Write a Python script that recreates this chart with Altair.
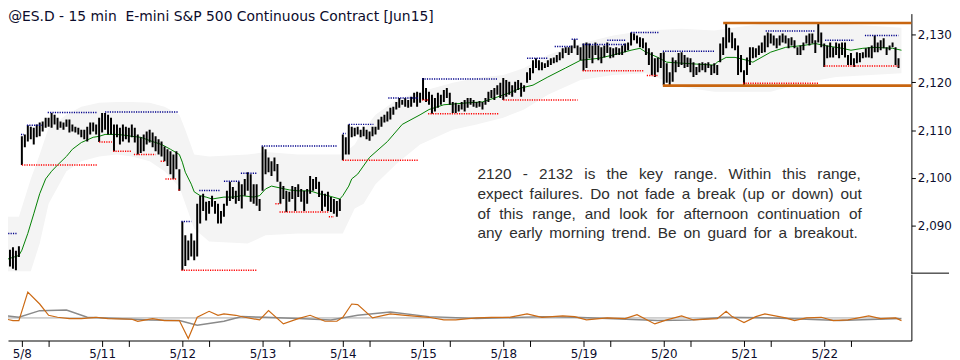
import json
import altair as alt
import pandas as pd

# ---------------- 15-minute bars (high / low) ----------------
pre_hi = [2087.0, 2086.0, 2086.5, 2085.0, 2085.5, 2084.8, 2085.7]
pre_lo = [2084.5, 2084.0, 2083.5, 2081.5, 2081.0, 2080.7, 2083.5]

d08_hi = [2108.7, 2109.1, 2111.0, 2110.7, 2110.5, 2111.2, 2111.6, 2111.8, 2112.6, 2112.6, 2113.6, 2113.2, 2112.6, 2111.8,
          2111.6, 2112.2, 2112.2, 2111.2, 2110.7, 2110.5, 2110.1, 2110.1, 2110.7, 2111.6, 2111.6, 2111.2, 2112.6]
d08_lo = [2102.7, 2106.4, 2107.6, 2108.1, 2107.0, 2108.5, 2108.7, 2109.7, 2110.5, 2110.7, 2110.5, 2111.2, 2110.1, 2110.5,
          2110.1, 2110.7, 2109.5, 2109.7, 2109.5, 2109.1, 2108.5, 2108.1, 2107.6, 2109.1, 2109.7, 2109.1, 2107.5]

d11_hi = [2113.6, 2113.6, 2113.2, 2112.6, 2111.2, 2111.2, 2110.5, 2111.2, 2110.7, 2110.5, 2111.2, 2110.5, 2109.1, 2108.5,
          2109.1, 2109.7, 2110.1, 2109.5, 2108.7, 2108.1, 2107.6, 2106.6, 2106.0, 2105.6, 2104.9, 2105.6, 2101.8]
d11_lo = [2109.5, 2110.1, 2109.1, 2109.1, 2105.6, 2108.5, 2107.0, 2107.6, 2108.1, 2107.4, 2108.5, 2107.4, 2104.9, 2105.2,
          2105.6, 2107.0, 2107.4, 2106.4, 2105.6, 2104.9, 2104.5, 2103.5, 2102.5, 2100.8, 2099.8, 2101.8, 2097.3]

d12_hi = [2090.9, 2088.0, 2086.9, 2088.4, 2086.9, 2094.6, 2096.3, 2096.7, 2095.0, 2095.2, 2096.3, 2095.2, 2094.6, 2093.1,
          2094.6, 2097.3, 2099.2, 2098.1, 2097.3, 2099.2, 2098.7, 2099.8, 2101.2, 2100.8, 2098.7, 2098.7, 2095.6]
d12_lo = [2080.7, 2081.6, 2082.8, 2083.6, 2082.8, 2083.6, 2090.5, 2093.1, 2091.1, 2092.5, 2094.0, 2092.5, 2090.5, 2090.5,
          2091.9, 2094.2, 2095.2, 2095.6, 2094.6, 2095.2, 2093.6, 2096.3, 2097.3, 2095.0, 2094.6, 2094.2, 2093.1]

d13_hi = [2106.6, 2106.0, 2104.3, 2103.5, 2104.3, 2102.9, 2099.2, 2098.3, 2097.3, 2097.1, 2098.3, 2098.1, 2098.7, 2097.7,
          2097.3, 2097.7, 2100.4, 2099.8, 2100.2, 2099.2, 2097.3, 2096.7, 2097.1, 2096.0, 2095.6, 2095.2, 2095.6]
d13_lo = [2097.3, 2100.8, 2101.2, 2100.4, 2101.4, 2099.2, 2094.6, 2095.6, 2092.9, 2095.0, 2095.6, 2093.1, 2096.0, 2095.0,
          2093.1, 2094.6, 2096.7, 2097.3, 2097.7, 2096.0, 2093.1, 2094.0, 2093.1, 2092.9, 2092.5, 2091.9, 2093.1]

d14_hi = [2109.1, 2108.5, 2111.2, 2110.7, 2110.5, 2110.7, 2110.1, 2110.7, 2110.1, 2109.7, 2110.7, 2110.7, 2112.2, 2112.8,
          2113.2, 2113.9, 2114.7, 2114.9, 2115.9, 2116.7, 2116.3, 2116.7, 2116.3, 2117.0, 2117.8, 2118.0, 2117.8]
d14_lo = [2103.7, 2104.9, 2104.9, 2108.5, 2108.7, 2109.1, 2108.5, 2108.7, 2108.1, 2107.8, 2108.7, 2109.1, 2110.1, 2110.7,
          2111.6, 2111.8, 2112.2, 2113.2, 2114.3, 2114.7, 2115.3, 2114.9, 2114.7, 2114.9, 2115.7, 2114.9, 2115.7]

d15_hi = [2120.9, 2118.8, 2118.0, 2117.4, 2116.7, 2117.8, 2117.4, 2118.4, 2118.8, 2117.8, 2115.9, 2115.7, 2115.3, 2115.9,
          2116.3, 2116.7, 2116.7, 2116.3, 2115.9, 2116.1, 2115.9, 2116.7, 2118.0, 2118.4, 2118.8, 2119.4, 2119.9]
d15_lo = [2116.3, 2115.9, 2115.3, 2113.4, 2113.9, 2114.7, 2115.3, 2115.9, 2116.7, 2115.3, 2113.6, 2113.6, 2113.9, 2114.3,
          2113.9, 2114.7, 2115.3, 2114.9, 2114.7, 2114.9, 2114.3, 2115.3, 2115.9, 2116.7, 2116.3, 2117.4, 2116.7]

d18_hi = [2120.9, 2120.5, 2120.1, 2119.4, 2120.1, 2120.5, 2119.9, 2119.4, 2122.1, 2123.0, 2124.6, 2125.0, 2124.6, 2124.2,
          2124.0, 2124.6, 2125.0, 2125.2, 2125.7, 2126.3, 2127.1, 2127.3, 2127.3, 2127.7, 2129.0, 2127.7, 2127.3]
d18_lo = [2116.3, 2117.0, 2117.4, 2117.0, 2117.8, 2118.4, 2117.0, 2118.0, 2119.9, 2120.5, 2121.9, 2123.0, 2122.5, 2122.5,
          2123.0, 2123.2, 2123.6, 2124.0, 2124.2, 2124.6, 2125.0, 2126.1, 2125.7, 2126.1, 2127.1, 2125.7, 2124.6]

d19_hi = [2128.1, 2128.3, 2128.1, 2127.7, 2128.3, 2127.7, 2127.3, 2127.7, 2128.3, 2127.3, 2127.1, 2127.3, 2127.1, 2127.7,
          2128.1, 2128.3, 2130.4, 2130.2, 2129.8, 2129.4, 2129.2, 2128.3, 2127.1, 2126.3, 2125.0, 2125.2, 2126.1]
d19_lo = [2122.4, 2123.0, 2125.0, 2124.0, 2125.7, 2124.6, 2124.0, 2125.2, 2126.1, 2125.0, 2125.2, 2125.7, 2125.7, 2125.7,
          2126.3, 2126.7, 2127.7, 2128.8, 2128.1, 2127.3, 2127.1, 2125.7, 2123.6, 2121.5, 2121.1, 2122.1, 2123.0]

d20_hi = [2126.3, 2124.0, 2122.1, 2125.2, 2124.6, 2126.1, 2126.3, 2125.7, 2125.2, 2125.0, 2124.2, 2123.2, 2124.0, 2124.2,
          2124.0, 2124.2, 2123.6, 2124.0, 2123.6, 2128.1, 2129.4, 2132.3, 2131.4, 2130.4, 2129.2, 2127.7, 2125.7]
d20_lo = [2119.4, 2119.9, 2119.4, 2120.1, 2122.1, 2123.2, 2123.6, 2123.0, 2123.2, 2122.1, 2121.1, 2121.5, 2122.1, 2122.5,
          2122.1, 2123.0, 2121.5, 2121.9, 2121.5, 2124.2, 2125.7, 2127.1, 2128.3, 2127.1, 2126.7, 2121.5, 2122.1]

d21_hi = [2122.5, 2125.2, 2127.3, 2127.3, 2127.1, 2127.7, 2128.3, 2129.8, 2130.4, 2130.2, 2129.8, 2129.2, 2129.8, 2130.2,
          2129.8, 2129.2, 2129.4, 2128.8, 2127.3, 2127.7, 2128.3, 2129.8, 2130.2, 2130.2, 2128.8, 2132.3, 2130.4]
d21_lo = [2119.4, 2121.5, 2123.6, 2125.0, 2125.2, 2125.7, 2126.1, 2126.3, 2127.3, 2128.1, 2127.7, 2127.1, 2127.7, 2128.3,
          2128.1, 2127.1, 2127.7, 2127.1, 2125.7, 2125.7, 2126.7, 2128.1, 2127.7, 2128.1, 2126.1, 2128.3, 2127.3]

d22_hi = [2128.1, 2127.7, 2128.3, 2127.3, 2128.3, 2128.1, 2128.3, 2128.3, 2125.7, 2126.1, 2125.0, 2126.3, 2126.1, 2126.3,
          2127.1, 2127.3, 2127.7, 2129.8, 2128.3, 2128.8, 2129.2, 2127.3, 2127.7, 2128.3, 2127.3, 2125.0]
d22_lo = [2123.2, 2125.0, 2125.2, 2125.2, 2125.7, 2125.0, 2125.7, 2125.2, 2123.6, 2123.6, 2123.2, 2124.0, 2124.2, 2125.0,
          2125.2, 2125.2, 2125.0, 2126.3, 2126.3, 2126.7, 2127.1, 2125.7, 2126.7, 2127.3, 2123.6, 2123.0]

# ---------------- session labels (bar index of each session start) ----------------
day_labels = ["5/8", "5/11", "5/12", "5/13", "5/14", "5/15", "5/18", "5/19", "5/20", "5/21", "5/22"]
day_start = [7, 34, 61, 88, 115, 142, 169, 196, 223, 250, 277]
minor_ticks = [16, 43, 70, 97, 124, 151, 178, 205, 232, 259, 286]
price_ticks = [2090, 2100, 2110, 2120, 2130]

# ---------------- moving average & envelope ----------------
ma_idx = [0, 6, 7, 9, 11, 13, 15, 17, 19, 22, 24, 27, 31, 33, 35, 39, 42, 44, 47, 51, 54, 57, 60, 61, 62, 64, 65, 67, 69,
          71, 75, 78, 81, 85, 87, 89, 91, 94, 97, 100, 104, 107, 110, 114, 115, 117, 118, 120, 124, 130, 135, 141, 144,
          149, 153, 157, 162, 166, 171, 175, 179, 184, 190, 195, 201, 206, 212, 215, 217, 221, 224, 229, 234, 240, 241,
          244, 247, 251, 253, 259, 264, 270, 274, 277, 283, 286, 290, 294, 300, 303]
ma_val = [2082.6, 2083.8, 2084.9, 2088.4, 2092.5, 2096.7, 2099.8, 2101.4, 2102.7, 2104.5, 2106.0, 2107.4, 2108.5, 2108.7,
          2109.1, 2109.1, 2108.9, 2108.7, 2108.5, 2107.6, 2107.0, 2106.0, 2104.9, 2103.3, 2101.2, 2098.7, 2097.1, 2096.3,
          2096.0, 2095.6, 2096.0, 2096.0, 2096.3, 2096.0, 2096.3, 2097.7, 2098.3, 2097.9, 2097.5, 2097.3, 2097.3, 2096.7,
          2096.3, 2095.6, 2096.3, 2098.3, 2099.8, 2100.8, 2104.3, 2107.6, 2111.2, 2113.2, 2114.3, 2115.3, 2115.5, 2115.7,
          2115.9, 2116.7, 2117.8, 2118.8, 2119.4, 2121.1, 2123.0, 2124.6, 2125.0, 2125.7, 2126.7, 2127.1, 2126.3, 2125.2,
          2124.2, 2124.0, 2123.8, 2123.6, 2124.2, 2125.2, 2125.2, 2124.6, 2124.2, 2126.3, 2127.3, 2127.7, 2128.1, 2127.7,
          2127.1, 2126.7, 2127.1, 2127.3, 2127.1, 2126.7]

band_idx = [0, 6, 10, 13, 16, 22, 27, 33, 39, 44, 50, 55, 60, 62, 65, 70, 83, 89, 100, 115, 119, 122, 126, 133, 141, 152,
            160, 169, 176, 184, 195, 206, 217, 229, 240, 259, 270, 281, 303]
band_hi = [2091.9, 2091.9, 2099.8, 2104.9, 2110.5, 2113.2, 2114.9, 2115.7, 2115.9, 2115.9, 2115.7, 2114.9, 2113.2, 2110.1,
           2104.9, 2104.5, 2104.9, 2105.4, 2104.9, 2104.9, 2107.0, 2110.1, 2113.2, 2116.3, 2118.0, 2119.9, 2120.9, 2121.5,
           2123.0, 2125.7, 2128.1, 2129.8, 2130.8, 2131.2, 2130.8, 2132.5, 2132.5, 2132.3, 2131.4]
band_lo = [2080.5, 2080.5, 2080.5, 2086.3, 2094.6, 2101.4, 2103.5, 2104.5, 2104.9, 2104.5, 2103.5, 2101.4, 2098.1, 2094.6,
           2089.4, 2086.7, 2086.3, 2088.0, 2088.4, 2088.4, 2093.6, 2094.6, 2098.7, 2102.9, 2107.0, 2110.1, 2111.2, 2112.6,
           2114.3, 2117.4, 2120.5, 2121.5, 2121.9, 2119.0, 2118.0, 2118.0, 2119.9, 2121.1, 2121.9]

# ---------------- swing high (blue) / swing low (red) levels ----------------
swh_start = [0, 6.7, 8.7, 15.7, 35, 60.7, 66.7, 75, 80.7, 87.7, 115, 117, 130.3, 141.7, 177, 186.3, 192, 195.7, 204, 212,
             222.7, 257.3, 277.3, 290.7]
swh_end = [5.3, 7.7, 13.7, 32.3, 59.7, 64, 73.7, 80.3, 86.3, 113.3, 116, 125.3, 140.3, 167.3, 184, 192, 194, 210.3, 210.3,
           221.3, 240.3, 273.7, 287, 302]
swh_price = [2088.4, 2109.1, 2111.0, 2113.7, 2113.8, 2090.9, 2097.4, 2099.3, 2101.0, 2106.7, 2109.3, 2111.2, 2116.7,
             2120.7, 2125.0, 2127.5, 2129.0, 2127.9, 2128.8, 2130.4, 2126.5, 2130.7, 2128.8, 2129.8]

swl_start = [7, 33, 37.7, 44.7, 53.7, 55.3, 59.7, 60.7, 92.3, 93.7, 110.3, 115, 141.7, 143.7, 169, 195.7, 217.3, 249.7, 277]
swl_end = [32.3, 37.3, 44, 52, 55.3, 59, 60.3, 86.3, 94, 110.3, 112, 140.3, 143.7, 167.3, 194, 216.3, 221.3, 275.3, 302]
swl_price = [2102.7, 2107.5, 2105.6, 2104.9, 2103.5, 2099.8, 2097.5, 2080.7, 2094.6, 2092.9, 2091.9, 2103.7, 2116.3,
             2113.4, 2116.3, 2122.4, 2121.4, 2119.8, 2123.4]

# ---------------- key range ----------------
range_price = [2132.4, 2119.3]
range_start = [243, 222.7]
range_end = [310, 310]

# ---------------- lower oscillator pane ----------------
orange_idx = [0, 4, 6, 9, 13, 16, 19, 23, 27, 32, 36, 44, 46, 51, 55, 60, 63, 66, 70, 73, 75, 79, 82, 87, 90, 95, 100, 104,
              109, 113, 115, 118, 120, 125, 131, 136, 144, 149, 153, 160, 165, 171, 177, 182, 189, 193, 197, 204, 210,
              214, 220, 224, 229, 233, 241, 244, 246, 250, 254, 257, 264, 267, 271, 276, 280, 285, 292, 296, 301, 303]
orange_val = [0.0, -0.4, -0.4, 3.9, 2.1, 0.4, 0.1, -0.1, -0.1, 0.1, -0.1, -0.2, -0.5, -0.1, -0.4, -0.4, -3.1, 0.1, 1.0,
              0.4, 0.6, 0.4, 0.1, -0.3, 1.1, -0.9, -0.1, 0.4, -0.5, -0.5, 0.1, 2.1, 2.0, 0.0, 0.6, 0.4, 0.1, -0.3, -0.3,
              0.0, 0.1, 0.1, 0.6, 0.1, 0.3, 0.2, -0.3, 0.0, -0.1, 0.5, -0.9, -0.3, 0.3, -0.3, -0.1, 1.0, 0.2, -0.7, 0.2,
              0.6, 0.0, -0.4, 0.0, 0.1, -0.4, -0.3, 0.3, -0.1, 0.0, -0.4]
gray_idx = [0, 6, 13, 22, 29, 39, 50, 60, 66, 75, 81, 89, 100, 111, 120, 131, 144, 160, 182, 193, 204, 221, 232, 243, 260,
            282, 303]
gray_val = [0.4, 0.1, 1.1, 1.2, 0.1, -0.1, -0.3, -0.4, -1.1, -0.5, 0.2, 0.1, -0.1, -0.3, 0.4, 0.9, 0.2, -0.1, 0.2, 0.1,
            -0.1, -0.4, -0.3, 0.1, 0.0, -0.4, -0.1]

title_text = "@ES.D - 15 min\u00a0 E-mini S&P 500 Continuous Contract [Jun15]"
note_lines = [
    "2120 - 2132 is the key range. Within this range,",
    "expect failures. Do not fade a break (up or down) out",
    "of this range, and look for afternoon continuation of",
    "any early morning trend. Be on guard for a breakout.",
]

# ---------------- build tables ----------------
hi = pre_hi + d08_hi + d11_hi + d12_hi + d13_hi + d14_hi + d15_hi + d18_hi + d19_hi + d20_hi + d21_hi + d22_hi
lo = pre_lo + d08_lo + d11_lo + d12_lo + d13_lo + d14_lo + d15_lo + d18_lo + d19_lo + d20_lo + d21_lo + d22_lo
bars = pd.DataFrame({"i": list(range(len(hi))), "hi": hi, "lo": lo})
ma_df = pd.DataFrame({"i": ma_idx, "v": ma_val})
band_df = pd.DataFrame({"i": band_idx, "hi": band_hi, "lo": band_lo})
swh_df = pd.DataFrame({"a": swh_start, "b": swh_end, "p": swh_price})
swl_df = pd.DataFrame({"a": swl_start, "b": swl_end, "p": swl_price})
rng_df = pd.DataFrame({"a": range_start, "b": range_end, "p": range_price})
org_df = pd.DataFrame({"i": orange_idx, "v": orange_val})
gry_df = pd.DataFrame({"i": gray_idx, "v": gray_val})
base_df = pd.DataFrame({"a": [0], "b": [302], "v": [0.0]})

# pixel helpers for annotation placement (page pixels -> data units)
def px_to_idx(px):
    return (px - 1) / 3.0

def py_to_price(py):
    return 2130 - (py - 29) / 4.83

AW = {' ': 278, '.': 278, ',': 278, '-': 333, '(': 333, ')': 333, 'B': 667, 'D': 722, 'W': 944,
      'a': 556, 'b': 556, 'c': 500, 'd': 556, 'e': 556, 'f': 278, 'g': 556, 'h': 556, 'i': 222, 'j': 222,
      'k': 500, 'l': 222, 'm': 833, 'n': 556, 'o': 556, 'p': 556, 'q': 556, 'r': 333, 's': 500, 't': 278,
      'u': 556, 'v': 500, 'w': 722, 'x': 500, 'y': 500, 'z': 500}
NOTE_SIZE = 15.5
note_left = 482
note_right = [869, 870, 870, 866]
note_base = [175, 195, 215, 235]
rows = []
for line, right, base in zip(note_lines, note_right, note_base):
    words = line.split(" ")
    widths = [sum(AW.get(c, 556) for c in w) * NOTE_SIZE / 1000 for w in words]
    gap = (right - note_left - sum(widths)) / (len(words) - 1)
    x = note_left
    for w, wd in zip(words, widths):
        rows.append({"x": px_to_idx(x), "y": py_to_price(base), "w": w})
        x += wd + gap
note_df = pd.DataFrame(rows)
title_df = pd.DataFrame({"x": [2.4], "y": [py_to_price(15)], "t": [title_text]})

# ---------------- scales & axes ----------------
PW, PH, OH = 912, 262, 67
xs = alt.Scale(domain=[7 / 3, 919 / 3], nice=False, zero=False)
ys = alt.Scale(domain=[2080.1, 2134.35], nice=False, zero=False)
os_ = alt.Scale(domain=[-3.4, 6.6], nice=False, zero=False)
AXC = "#0c0c2c"

price_axis = alt.Axis(orient="right", values=price_ticks, format=",d", title=None, grid=False,
                      domain=True, domainColor="black", ticks=True, tickSize=4, tickColor="black",
                      labelFont="DejaVu Sans", labelFontSize=12, labelColor=AXC, labelPadding=2)

tick_vals = sorted(day_start + minor_ticks)
label_expr = "indexof(%s, datum.value) < 0 ? '' : %s[indexof(%s, datum.value)]" % (
    json.dumps(day_start), json.dumps(day_labels), json.dumps(day_start))
x_axis = alt.Axis(values=tick_vals, labelExpr=label_expr, title=None, grid=False, domain=True,
                  domainColor="black", ticks=True, tickSize=6, tickColor="black", labelFont="DejaVu Sans",
                  labelFontSize=12, labelColor=AXC, labelPadding=2, labelFlush=False, labelOverlap=False)
osc_axis = alt.Axis(orient="right", title=None, grid=False, ticks=False, labels=False, domain=True,
                    domainColor="black")
no_x = alt.Axis(title=None, labels=False, ticks=False, domain=False, grid=False)

PX = dict(scale=xs, axis=no_x)
PY = dict(scale=ys, axis=price_axis)

band = alt.Chart(band_df).mark_area(color="#f4f4f4", clip=True).encode(
    x=alt.X("i:Q", **PX), y=alt.Y("lo:Q", **PY), y2="hi:Q")
ma = alt.Chart(ma_df).mark_line(color="#008000", strokeWidth=1, clip=True).encode(
    x=alt.X("i:Q", **PX), y=alt.Y("v:Q", **PY))
barm = alt.Chart(bars).mark_rule(color="black", strokeWidth=2, clip=True).encode(
    x=alt.X("i:Q", **PX), y=alt.Y("lo:Q", **PY), y2="hi:Q")
swh = alt.Chart(swh_df).mark_rule(color="#00008b", strokeWidth=1.5, strokeDash=[1.2, 1.2], clip=True).encode(
    x=alt.X("a:Q", **PX), x2="b:Q", y=alt.Y("p:Q", **PY))
swl = alt.Chart(swl_df).mark_rule(color="#ff0000", strokeWidth=1.5, strokeDash=[1.2, 1.2], clip=True).encode(
    x=alt.X("a:Q", **PX), x2="b:Q", y=alt.Y("p:Q", **PY))
rng = alt.Chart(rng_df).mark_rule(color="#c8650f", strokeWidth=2.6, clip=True).encode(
    x=alt.X("a:Q", **PX), x2="b:Q", y=alt.Y("p:Q", **PY))
note = alt.Chart(note_df).mark_text(font="Liberation Sans", fontSize=NOTE_SIZE, color="#2e2e2e",
                                    align="left", baseline="alphabetic").encode(
    x=alt.X("x:Q", **PX), y=alt.Y("y:Q", **PY), text="w:N")
title = alt.Chart(title_df).mark_text(font="DejaVu Sans", fontSize=14, color=AXC,
                                      align="left", baseline="alphabetic").encode(
    x=alt.X("x:Q", **PX), y=alt.Y("y:Q", **PY), text="t:N")
sep = alt.Chart(pd.DataFrame({"k": [0]})).mark_rule(color="black", strokeWidth=1).encode(
    x=alt.value(PW), x2=alt.value(PW + 38), y=alt.value(PH))

price = alt.layer(band, ma, barm, swh, swl, rng, note, title, sep).properties(width=PW, height=PH)

OX = dict(scale=xs, axis=x_axis)
OY = dict(scale=os_, axis=osc_axis)
base = alt.Chart(base_df).mark_rule(color="#a8a8a8", strokeWidth=1, clip=True).encode(
    x=alt.X("a:Q", **OX), x2="b:Q", y=alt.Y("v:Q", **OY))
gline = alt.Chart(gry_df).mark_line(color="#8a8a8a", strokeWidth=1.5, clip=True).encode(
    x=alt.X("i:Q", **OX), y=alt.Y("v:Q", **OY))
oline = alt.Chart(org_df).mark_line(color="#cc6a14", strokeWidth=1.2, clip=True).encode(
    x=alt.X("i:Q", **OX), y=alt.Y("v:Q", **OY))
osc = alt.layer(base, gline, oline).properties(width=PW, height=OH)

chart = alt.vconcat(price, osc, spacing=0).properties(padding=0, background="white").configure_view(stroke=None)
chart.save("out.html", embed_options={"renderer": "svg", "actions": False})
